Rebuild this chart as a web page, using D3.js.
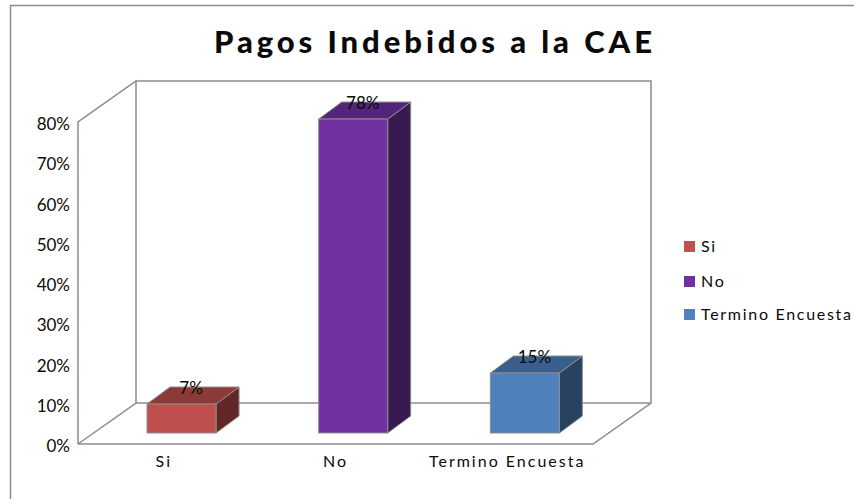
<!DOCTYPE html>
<html><head><meta charset="utf-8">
<script src="https://cdn.jsdelivr.net/npm/d3@7"></script>
<style>html,body{margin:0;background:#fff;overflow:hidden}svg{display:block}text{font-family:Lato,sans-serif;fill:#0a0a0a}</style>
</head><body><svg id="c" width="854" height="499"></svg>
<script>
const categories=["Si","No","Termino Encuesta"];
const values=[7.2,78,14.9];
const labels=["7%","78%","15%"];
const ticks=[0,10,20,30,40,50,60,70,80];
const front=["#c0504d","#7030a0","#4f81bd"];
const topc=["#8b3a38","#532479","#3a5f8c"];
const side=["#622726","#371a52","#284260"];
const svg=d3.select("#c");
const y=d3.scaleLinear().domain([0,80]).range([444,122]);
const xb=d3.scaleBand().domain(categories).range([78,593]).paddingInner(0.598).paddingOuter(0.299);
const dx=58,dy=-41,bdx=23,bdy=-17,bOffX=17.7,bOffY=11;
const grey="#8c8c8c";
svg.append("path").attr("d","M10.5,499V5.5H854").attr("fill","none").attr("stroke",grey).attr("stroke-width",1.5);
svg.append("text").attr("x",214).attr("y",53).attr("font-weight",900).attr("font-size",31).attr("textLength",438).attr("lengthAdjust","spacing").text("Pagos Indebidos a la CAE");
const frame=[[[78,y(0)],[78,y(80)],[78+dx,y(80)+dy],[78+dx,y(0)+dy],[78,y(0)]],
 [[78+dx,y(80)+dy],[593+dx,y(80)+dy],[593+dx,y(0)+dy],[593,y(0)],[78,y(0)]],
 [[78+dx,y(0)+dy],[593+dx,y(0)+dy]]];
const line=d3.line();
svg.selectAll("path.f").data(frame).join("path").attr("class","f").attr("d",line).attr("fill","none").attr("stroke",grey).attr("stroke-width",1.5);
svg.selectAll("text.yt").data(ticks).join("text").attr("class","yt").attr("x",70).attr("y",d=>y(d)+8).attr("text-anchor","end").attr("font-size",17).text(d=>d+"%");
const base=y(0)-bOffY;
const h=d=>y(0)-y(d);
const g=svg.selectAll("g.b").data(categories).join("g").attr("class","b");
g.each(function(c,i){
 const s=d3.select(this),x0=xb(c)+bOffX,x1=x0+xb.bandwidth(),t=base-h(values[i]);
 s.append("path").attr("d",line([[x1,t],[x1+bdx,t+bdy],[x1+bdx,base+bdy],[x1,base]])+"Z").attr("fill",side[i]).attr("stroke",grey);
 s.append("path").attr("d",line([[x0,t],[x0+bdx,t+bdy],[x1+bdx,t+bdy],[x1,t]])+"Z").attr("fill",topc[i]).attr("stroke",grey);
 s.append("rect").attr("x",x0).attr("y",t).attr("width",x1-x0).attr("height",base-t).attr("fill",front[i]).attr("stroke",grey);
 s.append("text").attr("x",(x0+x1)/2+9.5).attr("y",t+bdy+7).attr("text-anchor","middle").attr("font-size",17).text(labels[i]);
 s.append("text").attr("x",xb(c)+xb.bandwidth()/2).attr("y",467).attr("text-anchor","middle").attr("font-size",16).attr("letter-spacing",2).text(c);
});
const legY=[241,276,309];
const leg=svg.selectAll("g.l").data(categories).join("g").attr("class","l").attr("transform",(d,i)=>`translate(684,${legY[i]})`);
leg.append("rect").attr("width",11).attr("height",11).attr("fill",(d,i)=>front[i]);
leg.append("text").attr("x",17).attr("y",11).attr("font-size",16).attr("letter-spacing",1.7).text(d=>d);
</script></body></html>
